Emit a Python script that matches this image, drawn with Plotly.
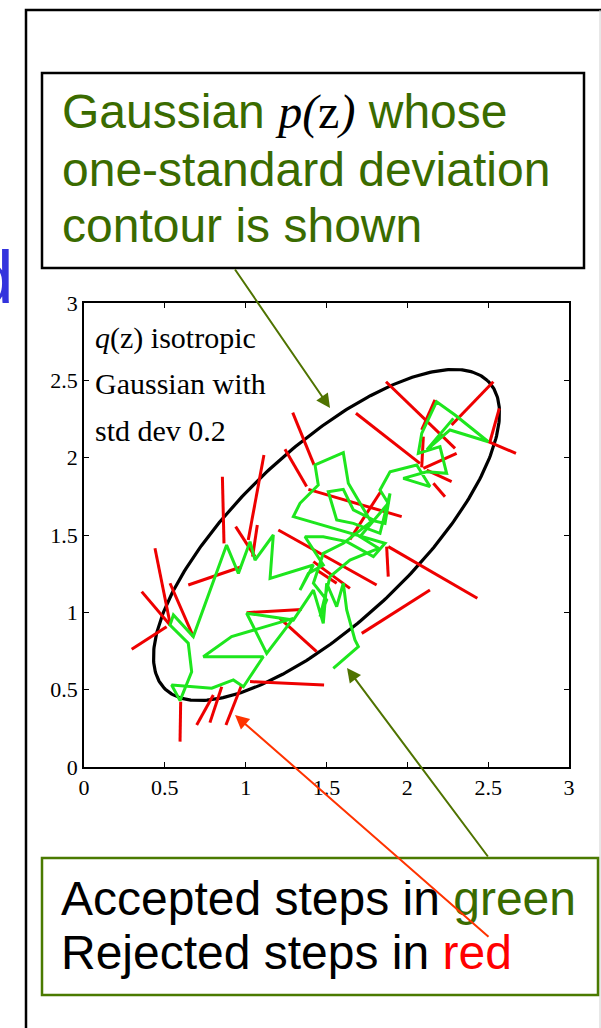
import numpy as np
import plotly.graph_objects as go

# ---------------- data ----------------
tick_vals = [0, 0.5, 1, 1.5, 2, 2.5, 3]
tick_text = ["0", "0.5", "1", "1.5", "2", "2.5", "3"]

# accepted chain (green)
green_x = [1.542, 1.697, 1.676, 1.625, 1.604, 1.563, 1.501, 1.480, 1.419, 1.295, 1.006, 1.130, 1.295, 0.913,
           0.738, 1.109, 0.986, 0.924, 0.790, 0.542, 0.594, 0.666, 0.645, 0.532, 0.553, 0.676, 0.882, 0.955,
           1.027, 1.058, 1.171, 1.151, 1.419, 1.336, 1.388, 1.480, 1.367, 1.480, 1.625, 1.790, 1.862, 1.295,
           1.336, 1.449, 1.429, 1.604, 1.635, 1.769, 1.862, 1.893, 1.831, 1.666, 1.563, 1.511, 1.604, 1.666,
           1.790, 1.604, 1.480, 1.419, 1.501, 1.460, 1.522, 1.645, 1.822, 1.707, 1.882, 1.831,
           1.893, 2.058, 2.140, 1.975, 2.120, 2.243, 2.202, 2.068, 2.089, 2.181, 2.295, 2.501, 2.264,
           2.120, 2.285]
green_y = [0.638, 0.778, 0.821, 1.015, 1.188, 1.037, 1.188, 0.929, 1.144, 0.950, 0.994, 0.735, 0.961, 0.843,
           0.713, 0.713, 0.519, 0.563, 0.509, 0.530, 0.429, 0.616, 0.800, 0.918, 0.983, 0.843, 1.435, 1.252,
           1.457, 1.338, 1.500, 1.220, 1.306, 1.144, 1.252, 1.306, 1.489, 1.489, 1.457, 1.360, 1.446, 1.619,
           1.705, 1.823, 1.953, 2.032, 1.834, 1.597, 1.575, 1.769, 1.511, 1.575, 1.597, 1.780, 1.795, 1.662,
           1.597, 1.446, 1.381, 1.188, 1.080, 0.972, 1.231, 1.338, 1.414, 1.489, 1.705, 1.791,
           1.909, 1.953, 1.813, 1.866, 1.909, 1.899, 2.071, 2.028, 2.157, 2.362, 2.276, 2.103, 2.179,
           2.050, 2.254]

# rejected proposals (red): from accepted state (x0,y0) to rejected candidate (x1,y1)
red_x0 = [0.511, 0.532, 0.532, 0.676, 0.645, 0.866, 0.938, 1.016, 1.043, 1.423, 1.377, 1.202, 1.388, 1.645,
          2.078, 2.295, 2.089, 2.274, 2.511, 2.501, 2.099, 2.120, 2.161, 1.882, 1.872, 1.718, 1.212, 1.006,
          1.027, 0.975, 0.852, 0.800, 0.598, 1.419, 1.439, 2.089]
red_y0 = [0.907, 0.918, 0.929, 0.843, 1.177, 1.446, 1.554, 1.468, 1.360, 1.953, 1.813, 1.532, 1.795, 1.472,
          1.963, 2.060, 2.179, 2.211, 2.103, 2.103, 1.931, 1.920, 1.834, 1.425, 1.425, 0.864, 0.961, 0.998,
          0.552, 0.530, 0.519, 0.466, 0.422, 1.328, 1.274, 1.937]
red_x1 = [0.295, 0.357, 0.439, 0.532, 0.975, 0.856, 1.058, 1.113, 1.072, 1.291, 1.243, 1.810, 1.965, 1.835,
          1.682, 1.868, 2.171, 2.532, 2.569, 2.672, 2.305, 2.274, 2.233, 2.433, 1.882, 2.140, 1.439, 1.346,
          1.485, 0.878, 0.779, 0.697, 0.594, 1.645, 1.563, 2.099]
red_y1 = [0.761, 1.134, 1.414, 1.188, 1.295, 1.877, 1.360, 2.017, 1.565, 2.291, 2.054, 1.177, 1.619, 1.780,
          2.287, 2.491, 2.373, 2.491, 2.319, 2.028, 2.028, 1.845, 1.748, 1.091, 1.231, 1.144, 0.746, 1.019,
          0.530, 0.272, 0.287, 0.272, 0.164, 1.155, 1.188, 2.136]

# one-standard-deviation contour of p(z)
ELLIPSE_CENTER = (1.5, 1.5)
ELLIPSE_SEMI_MAJOR = 1.41
ELLIPSE_SEMI_MINOR = 0.55
ELLIPSE_ANGLE_DEG = 45.0

# ---------------- geometry helpers (page pixels -> paper) ----------------
W, H = 601, 1028
L, R, T, B = 84, 569, 303, 767          # plot area in page pixels


def px(x):
    return (x - L) / (R - L)


def py(y):
    return (B - y) / (B - T)


GREEN_TXT = "#3a6b00"
GREEN_ARROW = "#4f7300"
SANS = "Liberation Sans, Arial, sans-serif"
SERIF = "Liberation Serif, Times New Roman, serif"

fig = go.Figure()

# ellipse
t = np.linspace(0, 2 * np.pi, 361)
ang = np.deg2rad(ELLIPSE_ANGLE_DEG)
ex = ELLIPSE_CENTER[0] + ELLIPSE_SEMI_MAJOR * np.cos(t) * np.cos(ang) - ELLIPSE_SEMI_MINOR * np.sin(t) * np.sin(ang)
ey = ELLIPSE_CENTER[1] + ELLIPSE_SEMI_MAJOR * np.cos(t) * np.sin(ang) + ELLIPSE_SEMI_MINOR * np.sin(t) * np.cos(ang)
fig.add_trace(go.Scatter(x=ex, y=ey, mode="lines", line=dict(color="black", width=3.2),
                         hoverinfo="skip", showlegend=False))

# rejected steps
rx, ry = [], []
for a, b, c, d in zip(red_x0, red_y0, red_x1, red_y1):
    rx += [a, c, None]
    ry += [b, d, None]
fig.add_trace(go.Scatter(x=rx, y=ry, mode="lines", line=dict(color="#ee0000", width=3),
                         hoverinfo="skip", showlegend=False))

# accepted steps
fig.add_trace(go.Scatter(x=green_x, y=green_y, mode="lines", line=dict(color="#1ee61e", width=3),
                         hoverinfo="skip", showlegend=False))

axis_common = dict(range=[0, 3], tickvals=tick_vals, ticktext=tick_text, ticks="inside", ticklen=5,
                   tickwidth=1.2, tickcolor="black", showline=True, linecolor="black", linewidth=1.5,
                   mirror="ticks", showgrid=False, zeroline=False,
                   tickfont=dict(family=SERIF, size=22, color="black"))

fig.update_layout(
    width=W, height=H, autosize=False,
    margin=dict(l=L, r=W - R, t=T, b=H - B, pad=0),
    paper_bgcolor="white", plot_bgcolor="white",
    xaxis=dict(**axis_common),
    yaxis=dict(**axis_common),
    showlegend=False,
)

shapes = []
# outer frame
shapes.append(dict(type="rect", xref="paper", yref="paper", x0=px(26), x1=px(604), y0=py(10), y1=py(1040),
                   line=dict(color="black", width=2.5), fillcolor="rgba(0,0,0,0)", layer="above"))
shapes.append(dict(type="line", xref="paper", yref="paper", x0=px(600), x1=px(600), y0=py(10), y1=py(1040),
                   line=dict(color="#d0d0d0", width=1), layer="above"))
# top box
shapes.append(dict(type="rect", xref="paper", yref="paper", x0=px(42), x1=px(584), y0=py(73), y1=py(268),
                   line=dict(color="black", width=2.5), fillcolor="rgba(0,0,0,0)", layer="above"))
# bottom box
shapes.append(dict(type="rect", xref="paper", yref="paper", x0=px(42), x1=px(598), y0=py(858), y1=py(995),
                   line=dict(color="#4a7a00", width=2.5), fillcolor="rgba(0,0,0,0)", layer="above"))
fig.update_layout(shapes=shapes)

ann = []


def text_line(txt, x, baseline, size, family, color, descent=0.212):
    ann.append(dict(text=txt, xref="paper", yref="paper", x=px(x), y=py(baseline + descent * size + 1),
                    xanchor="left", yanchor="bottom", showarrow=False,
                    font=dict(family=family, size=size, color=color)))


pz = ('<span style="font-family:Liberation Serif, Times New Roman, serif;color:black">'
      '<i>p(</i>z<i>)</i></span>')
text_line("Gaussian " + pz + " whose", 60, 130, 48, SANS, GREEN_TXT)
text_line("one-standard deviation", 60, 187, 48, SANS, GREEN_TXT)
text_line("contour is shown", 60, 243, 48, SANS, GREEN_TXT)

text_line('Accepted steps in <span style="color:%s">green</span>' % GREEN_TXT, 59, 916, 48, SANS, "black")
text_line('Rejected steps in <span style="color:#ff0000">red</span>', 59, 970, 48, SANS, "black")

text_line("<i>q</i>(z) isotropic", 93, 350, 30, SERIF, "black", 0.216)
text_line("Gaussian with", 93, 395, 30, SERIF, "black", 0.216)
text_line("std dev 0.2", 93, 442, 30, SERIF, "black", 0.216)

# cut-off blue letter at the left edge
ann.append(dict(text="d", xref="paper", yref="paper", x=px(16), y=py(304 + 0.212 * 75 + 1),
                xanchor="right", yanchor="bottom", showarrow=False,
                font=dict(family=SANS, size=75, color="#3333dd")))


def arrow(tip, tail, color):
    ann.append(dict(text="", xref="paper", yref="paper", x=px(tip[0]), y=py(tip[1]),
                    ax=tail[0] - tip[0], ay=tail[1] - tip[1], axref="pixel", ayref="pixel",
                    showarrow=True, arrowhead=2, arrowsize=1.4, arrowwidth=2, arrowcolor=color,
                    standoff=0, startstandoff=0))


arrow((330, 408), (234, 268), GREEN_ARROW)
arrow((347, 668), (489, 858), GREEN_ARROW)
arrow((235, 715), (490, 938), "#ff3300")

fig.update_layout(annotations=ann)

fig.write_html("out.html", config={"displayModeBar": False},
               post_script="document.body.style.margin='0px';")
